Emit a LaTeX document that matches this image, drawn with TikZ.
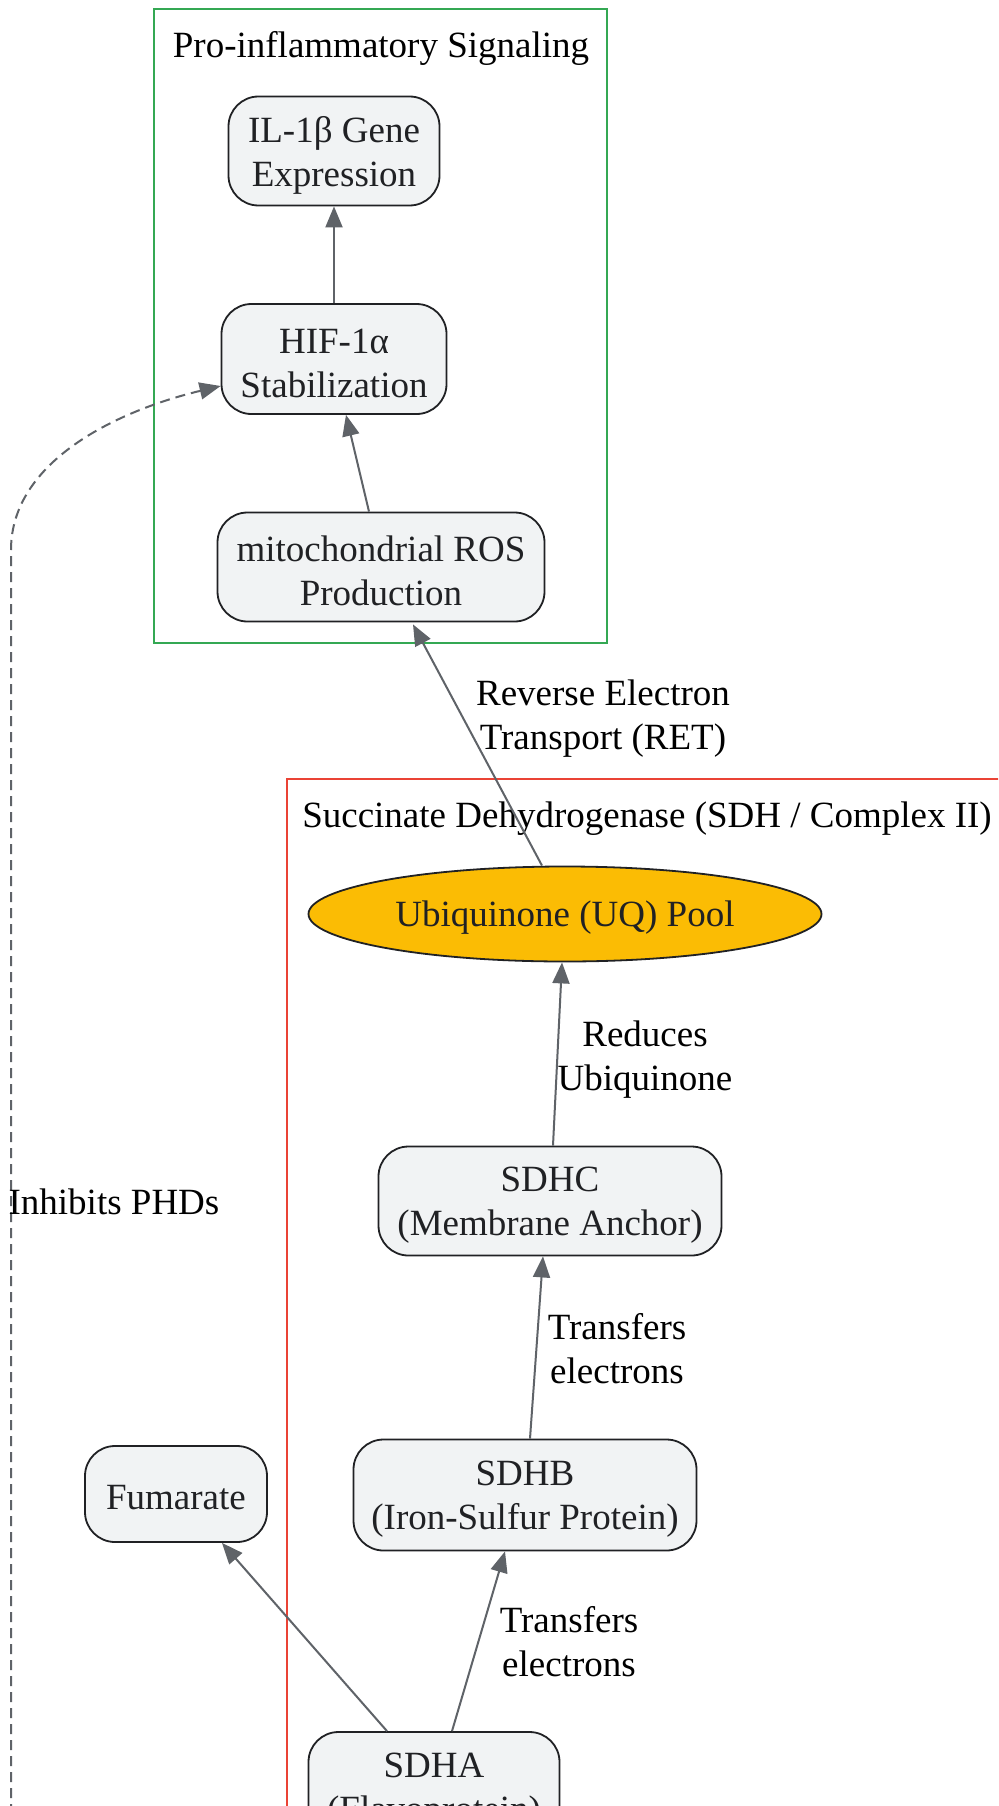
\documentclass[tikz,border=0pt]{standalone}
\usepackage{fontspec}
\setmainfont{Liberation Serif}
\usetikzlibrary{arrows.meta,shapes.geometric,calc}
\definecolor{nodefill}{HTML}{F1F3F4}
\definecolor{nodeline}{HTML}{202124}
\definecolor{arrowc}{HTML}{5F6368}
\definecolor{gcl}{HTML}{34A853}
\definecolor{rcl}{HTML}{EA4335}
\definecolor{amber}{HTML}{FBBC04}
\begin{document}
\begin{tikzpicture}[x=1pt,y=-1pt,
  txt/.style={font=\fontsize{37}{44}\selectfont},
  box/.style={draw=nodeline, line width=1.8pt, fill=nodefill, rounded corners=30pt, inner sep=0pt},
  boxtext/.style={txt, align=center, inner sep=0pt, text=nodeline, yshift=-4pt},
  lbl/.style={txt, align=center, inner sep=0pt, text=black},
  conn/.style={draw=arrowc, line width=2pt, -{Triangle[length=21pt,width=17pt]}},
  clus/.style={line width=2pt},
]
\useasboundingbox (0,0) rectangle (998,1806);
\clip (0,0) rectangle (998,1806);
\fill[white] (0,0) rectangle (998,1806);

% clusters
\draw[clus, draw=gcl] (154,9) rectangle (607,643);
\node[lbl] (gtitle) at (381,48) {Pro-inflammatory Signaling};
\draw[clus, draw=rcl] (287,779) rectangle (1030,2000);
\node[lbl] (rtitle) at (647,819) {Succinate Dehydrogenase (SDH / Complex II)};

% nodes
\node[box, minimum width=211pt, minimum height=109pt, label={[boxtext]center:{IL-1β Gene\\Expression}}] (il) at (334,151) {};
\node[box, minimum width=225pt, minimum height=110pt, label={[boxtext]center:{HIF-1α\\Stabilization}}] (hif) at (334,359) {};
\node[box, minimum width=327pt, minimum height=109pt, label={[boxtext]center:{mitochondrial ROS\\Production}}] (ros) at (381,567) {};
\node[ellipse, draw=nodeline, line width=1.8pt, fill=amber, minimum width=513pt, minimum height=95pt, inner sep=0pt, label={[boxtext]center:{Ubiquinone (UQ) Pool}}] (uq) at (565,914) {};
\node[box, minimum width=343pt, minimum height=109pt, label={[boxtext]center:{SDHC\\(Membrane Anchor)}}] (sdhc) at (550,1201) {};
\node[box, minimum width=343pt, minimum height=111pt, label={[boxtext]center:{SDHB\\(Iron-Sulfur Protein)}}] (sdhb) at (525,1495) {};
\node[box, minimum width=182pt, minimum height=96pt, label={[boxtext]center:{Fumarate}}] (fum) at (176,1494) {};
\node[box, minimum width=251pt, minimum height=110pt, label={[boxtext]center:{SDHA\\(Flavoprotein)}}] (sdha) at (434,1787) {};

% connectors
\draw[conn] (hif.north) -- (il.south);
\draw[conn] ([xshift=-12pt]ros.north) -- ([xshift=12pt]hif.south);
\draw[conn] ([xshift=-23pt]uq.north) -- ([xshift=32pt,yshift=-2pt]ros.south);
\draw[conn] ([xshift=3pt]sdhc.north) -- ([xshift=-3pt]uq.south);
\draw[conn] ([xshift=5pt]sdhb.north) -- ([xshift=-7pt]sdhc.south);
\draw[conn] ([xshift=18pt]sdha.north) -- ([xshift=-20pt]sdhb.south);
\draw[conn] ([xshift=-47pt]sdha.north) -- ([xshift=46pt]fum.south);

\coordinate (dstart) at (11,1830);
\draw[draw=arrowc, line width=2pt, dash pattern=on 10pt off 6pt, -{Triangle[length=21pt,width=17pt]}]
  (dstart) -- (11,550) .. controls (11,460) and (120,410) .. ([yshift=-27pt]hif.west);

% edge labels
\node[lbl] (l1) at (603,719) {Reverse Electron\\Transport (RET)};
\node[lbl] (l2) at (645,1060) {Reduces\\Ubiquinone};
\node[lbl] (l3) at (617,1349) {Transfers\\electrons};
\node[lbl] (l4) at (569,1642) {Transfers\\electrons};
\node[lbl] (l5) at (114,1202) {Inhibits PHDs};
\end{tikzpicture}
\end{document}
